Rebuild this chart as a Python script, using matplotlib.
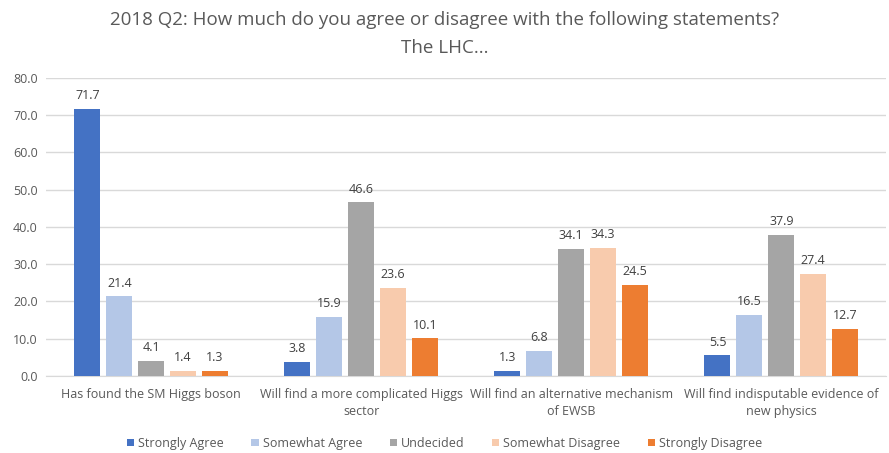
import numpy as np
import matplotlib.pyplot as plt

plt.rcParams['font.family'] = ['Open Sans', 'DejaVu Sans']

categories = ['Has found the SM Higgs boson',
              'Will find a more complicated Higgs\nsector',
              'Will find an alternative mechanism\nof EWSB',
              'Will find indisputable evidence of\nnew physics']
series = ['Strongly Agree', 'Somewhat Agree', 'Undecided',
          'Somewhat Disagree', 'Strongly Disagree']
strongly_agree = [71.7, 3.8, 1.3, 5.5]
somewhat_agree = [21.4, 15.9, 6.8, 16.5]
undecided = [4.1, 46.6, 34.1, 37.9]
somewhat_disagree = [1.4, 23.6, 34.3, 27.4]
strongly_disagree = [1.3, 10.1, 24.5, 12.7]
values = [strongly_agree, somewhat_agree, undecided, somewhat_disagree, strongly_disagree]
colors = ['#4472C4', '#B4C7E7', '#A5A5A5', '#F8CBAD', '#ED7D31']

fig = plt.figure(figsize=(8.89, 4.53), dpi=100)
ax = fig.add_axes([0.052, 0.170, 0.945, 0.658])

x = np.arange(len(categories))
step = 0.152
width = 0.124
for i, (name, vals, c) in enumerate(zip(series, values, colors)):
    pos = x + (i - 2) * step
    ax.bar(pos, vals, width, color=c, label=name, zorder=3)
    for p, v in zip(pos, vals):
        ax.text(p, v + 1.8, f'{v:.1f}', ha='center', va='bottom',
                fontsize=9, color='#404040')

ax.set_ylim(0, 80)
ax.set_xlim(-0.5, 3.5)
ax.set_yticks(np.arange(0, 81, 10))
ax.set_yticklabels([f'{t:.1f}' for t in np.arange(0, 81, 10)])
ax.yaxis.grid(True, color='#D9D9D9', linewidth=1, zorder=0)
ax.set_xticks(x)
ax.set_xticklabels(categories, fontsize=9, color='#595959', linespacing=1.4)
ax.tick_params(axis='y', labelsize=9, labelcolor='#595959', length=0, pad=6)
ax.tick_params(axis='x', length=0, pad=9)
for s in ['top', 'right', 'left']:
    ax.spines[s].set_visible(False)
ax.spines['bottom'].set_color('#D9D9D9')

fig.suptitle('2018 Q2: How much do you agree or disagree with the following statements?\nThe LHC...',
             y=0.975, fontsize=13.5, color='#595959', linespacing=1.7)

fig.legend(loc='lower center', bbox_to_anchor=(0.5, -0.018), ncol=5, frameon=False,
           fontsize=9, labelcolor='#595959', handlelength=0.6, handleheight=0.6,
           handletextpad=0.3, columnspacing=2.2)

fig.savefig('out.png', dpi=100)
